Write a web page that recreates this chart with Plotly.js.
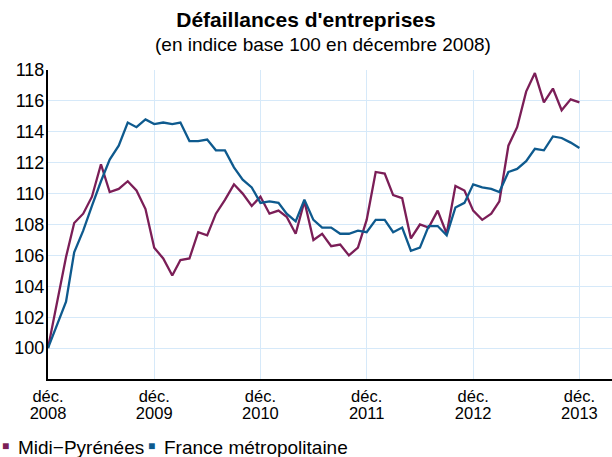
<!DOCTYPE html>
<html>
<head>
<meta charset="utf-8">
<script src="https://cdn.plot.ly/plotly-3.0.1.min.js"></script>
<style>html,body{margin:0;padding:0;background:#fff;}#chart{width:612px;height:457px;}</style>
</head>
<body>
<div id="chart"></div>
<script>
// Monthly dates, déc. 2008 -> déc. 2013
const months = [];
for (let y = 2008; y <= 2013; y++) {
  for (let m = 1; m <= 12; m++) {
    if (y === 2008 && m < 12) continue;
    months.push(y + '-' + String(m).padStart(2, '0') + '-01');
  }
}

const midiPyrenees = [100.0, 102.9, 105.9, 108.1, 108.7, 109.8, 111.9, 110.1, 110.3, 110.8,
  110.2, 109.0, 106.5, 105.8, 104.7, 105.7, 105.8, 107.5, 107.3, 108.7,
  109.6, 110.6, 110.0, 109.2, 109.8, 108.7, 108.9, 108.5, 107.4, 109.5,
  107.0, 107.4, 106.6, 106.7, 106.0, 106.5, 108.3, 111.4, 111.3, 109.9,
  109.7, 107.1, 108.0, 107.8, 108.9, 107.4, 110.5, 110.2, 108.9, 108.3,
  108.7, 109.5, 113.1, 114.3, 116.6, 117.8, 115.9, 116.8, 115.4, 116.1, 115.9];

const franceMetro = [100.0, 101.5, 103.0, 106.2, 107.6, 109.2, 110.8, 112.2, 113.1, 114.6,
  114.3, 114.8, 114.5, 114.6, 114.5, 114.6, 113.4, 113.4, 113.5, 112.8,
  112.8, 111.7, 110.9, 110.4, 109.4, 109.5, 109.4, 108.7, 108.2, 109.6,
  108.3, 107.8, 107.8, 107.4, 107.4, 107.6, 107.5, 108.3, 108.3, 107.5,
  107.8, 106.3, 106.5, 107.9, 107.9, 107.3, 109.1, 109.4, 110.6, 110.4,
  110.3, 110.1, 111.4, 111.6, 112.1, 112.9, 112.8, 113.7, 113.6, 113.3, 112.95];

const xTickVals = ['2008-12-01', '2009-12-01', '2010-12-01', '2011-12-01', '2012-12-01', '2013-12-01'];
const xTickMonth = ['déc.', 'déc.', 'déc.', 'déc.', 'déc.', 'déc.'];
const xTickYear = ['2008', '2009', '2010', '2011', '2012', '2013'];
const yTickVals = [100, 102, 104, 106, 108, 110, 112, 114, 116, 118];

const seriesNames = ['Midi\u2212Pyrénées', 'France métropolitaine'];
const colorMidi = '#7b1e57';
const colorFrance = '#0e5a8e';

const FONT = 'Liberation Sans, Arial, Helvetica, sans-serif';
const W = 612, H = 457;
const M = {l: 48, r: 0, t: 70, b: 78};
const pw = W - M.l - M.r, ph = H - M.t - M.b;
const px = v => (v - M.l) / pw;
const py = v => (H - M.b - v) / ph;

const xRange = ['2008-12-01', '2014-03-23'];
const grid = '#d6e9f9';
const tickFont = {family: FONT, size: 18, color: '#000'};
const xTickFont = {family: FONT, size: 16.5, color: '#000'};

const traces = [
  {x: months, y: midiPyrenees, type: 'scatter', mode: 'lines', name: seriesNames[0],
   line: {color: colorMidi, width: 2.3}, showlegend: false, hoverinfo: 'skip'},
  {x: months, y: franceMetro, type: 'scatter', mode: 'lines', name: seriesNames[1], xaxis: 'x2',
   line: {color: colorFrance, width: 2.3}, showlegend: false, hoverinfo: 'skip'}
];

const layout = {
  width: W, height: H,
  margin: M,
  paper_bgcolor: '#fff', plot_bgcolor: '#fff',
  font: {family: FONT, size: 18, color: '#000'},
  title: {text: "<b>Défaillances d'entreprises</b>", font: {family: FONT, size: 21, color: '#000'},
          xref: 'container', x: 0.5, xanchor: 'center', yref: 'container', y: 1 - 20 / H, yanchor: 'middle'},
  xaxis: {
    type: 'date', range: xRange, tickmode: 'array', tickvals: xTickVals, ticktext: xTickMonth,
    showgrid: true, gridcolor: grid, gridwidth: 1, showline: true, linecolor: '#000', linewidth: 2,
    ticks: '', zeroline: false, tickfont: xTickFont, ticklabelstandoff: 1, fixedrange: true
  },
  xaxis2: {
    type: 'date', overlaying: 'x', anchor: 'y', side: 'bottom', range: xRange, tickmode: 'array',
    tickvals: xTickVals, ticktext: xTickYear, showgrid: false, showline: false, ticks: '',
    zeroline: false, tickfont: xTickFont, ticklabelstandoff: 22, fixedrange: true
  },
  yaxis: {
    range: [98, 118], tickmode: 'array', tickvals: yTickVals, showgrid: true, gridcolor: grid, gridwidth: 1,
    showline: true, linecolor: '#000', linewidth: 2, ticks: '', zeroline: false,
    tickfont: tickFont, ticklabelstandoff: -2, fixedrange: true
  },
  showlegend: false,
  annotations: [
    {text: '(en indice base 100 en décembre 2008)', xref: 'paper', yref: 'paper', x: px(323), y: py(45),
     xanchor: 'center', yanchor: 'middle', showarrow: false, font: {family: FONT, size: 19, color: '#000'}},
    {text: '■', xref: 'paper', yref: 'paper', x: px(5.5), y: py(446.5), xanchor: 'center', yanchor: 'middle',
     showarrow: false, font: {family: FONT, size: 12, color: colorMidi}},
    {text: seriesNames[0], xref: 'paper', yref: 'paper', x: px(16), y: py(447), xanchor: 'left', yanchor: 'middle',
     showarrow: false, font: {family: FONT, size: 19, color: '#000'}},
    {text: '■', xref: 'paper', yref: 'paper', x: px(151.5), y: py(446.5), xanchor: 'center', yanchor: 'middle',
     showarrow: false, font: {family: FONT, size: 12, color: colorFrance}},
    {text: seriesNames[1], xref: 'paper', yref: 'paper', x: px(162), y: py(447), xanchor: 'left', yanchor: 'middle',
     showarrow: false, font: {family: FONT, size: 19, color: '#000'}}
  ]
};

Plotly.newPlot('chart', traces, layout, {staticPlot: true, displayModeBar: false});
</script>
</body>
</html>
